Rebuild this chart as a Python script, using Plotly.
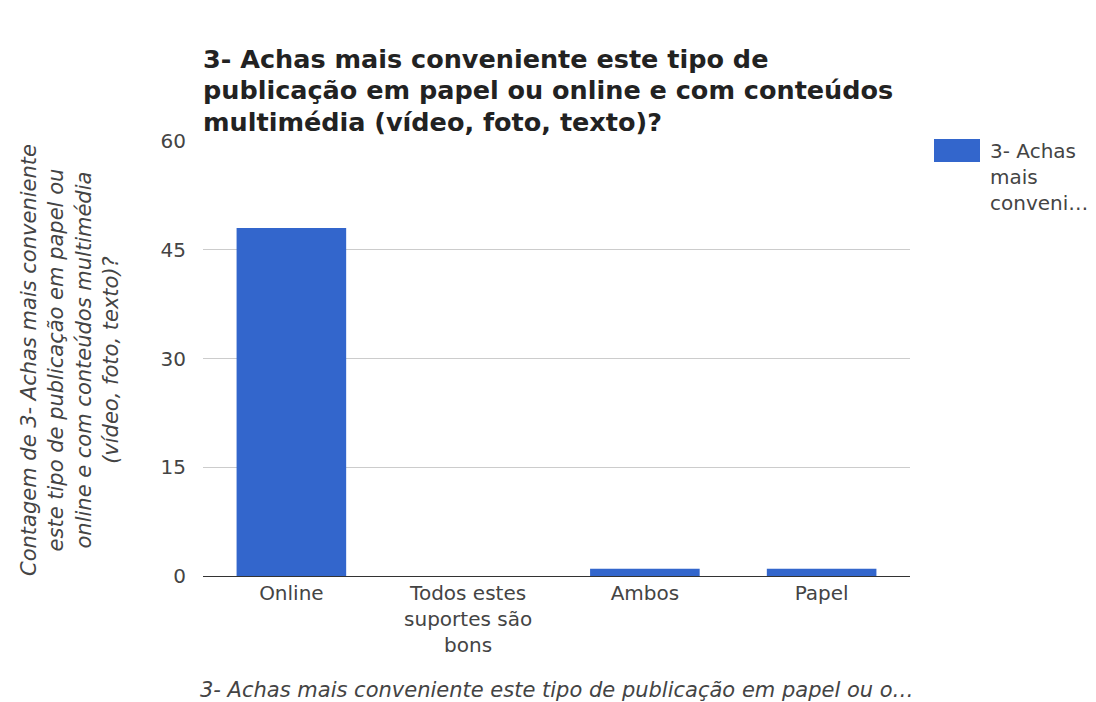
import plotly.graph_objects as go

# Survey responses: count per answer option
categories = ["Online", "Todos estes<br>suportes são<br>bons", "Ambos", "Papel"]
counts = [48, 0, 1, 1]
y_ticks = [0, 15, 30, 45, 60]

title_lines = ["3- Achas mais conveniente este tipo de",
               "publicação em papel ou online e com conteúdos",
               "multimédia (vídeo, foto, texto)?"]
y_title = ("Contagem de 3- Achas mais conveniente<br>"
           "este tipo de publicação em papel ou<br>"
           "online e com conteúdos multimédia<br>"
           "(vídeo, foto, texto)?")
x_title = "3- Achas mais conveniente este tipo de publicação em papel ou o…"
legend_text = "3- Achas<br>mais<br>conveni…"

BLUE = "#3366cc"
FONT = "DejaVu Sans, Arial, sans-serif"

# plot area in pixels
L, R, T, B = 203, 910, 141, 576
W, H = R - L, B - T


def px(x):
    return (x - L) / W


def py(y):
    return (B - y) / H


fig = go.Figure()
fig.add_trace(go.Bar(x=categories, y=counts, marker=dict(color=BLUE, line=dict(width=0)),
                     showlegend=False))

fig.update_layout(
    width=1096, height=702,
    margin=dict(l=L, r=1096 - R, t=T, b=702 - B),
    paper_bgcolor="white", plot_bgcolor="white",
    bargap=0.38,
    font=dict(family=FONT, size=20, color="#444"),
    xaxis=dict(showgrid=False, showline=False, ticks="", tickfont=dict(size=20, color="#444"),
               ticklabelstandoff=3),
    yaxis=dict(range=[0, 60], tickvals=y_ticks, showgrid=True, gridcolor="#cccccc",
               gridwidth=1, zeroline=True, zerolinecolor="#333333", zerolinewidth=1,
               showline=False, ticks="", tickfont=dict(size=20, color="#444"),
               ticklabelstandoff=16),
)

# Chart title, one annotation per line
for i, line in enumerate(title_lines):
    fig.add_annotation(text="<b>" + line + "</b>", xref="paper", yref="paper",
                       x=px(L - 2), y=py(59 + 31.5 * i), xanchor="left", yanchor="middle",
                       align="left", showarrow=False,
                       font=dict(family=FONT, size=25.5, color="#222"))

# Y-axis title (rotated, italic)
fig.add_annotation(text="<i>" + y_title + "</i>", xref="paper", yref="paper",
                   x=px(70), y=py(360), xanchor="center", yanchor="middle",
                   textangle=-90, showarrow=False, align="center",
                   font=dict(family=FONT, size=21, color="#444"))

# X-axis title (italic)
fig.add_annotation(text="<i>" + x_title + "</i>", xref="paper", yref="paper",
                   x=0.5, y=py(690), xanchor="center", yanchor="middle",
                   showarrow=False, font=dict(family=FONT, size=21, color="#444"))

# Legend swatch and label
fig.add_shape(type="rect", xref="paper", yref="paper",
              x0=px(934), x1=px(980), y0=py(162), y1=py(139),
              fillcolor=BLUE, line=dict(width=0))
fig.add_annotation(text=legend_text, xref="paper", yref="paper",
                   x=px(988), y=py(137), xanchor="left", yanchor="top",
                   align="left", showarrow=False,
                   font=dict(family=FONT, size=20, color="#444"))

fig.write_html("out.html")
